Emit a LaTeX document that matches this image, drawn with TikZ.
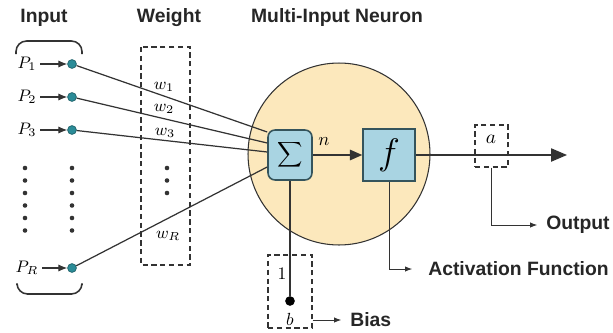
\RequirePackage{fix-cm}
\documentclass[tikz,border=0pt]{standalone}
\usepackage{fontspec}
\setsansfont{Liberation Sans}
\usepackage{tikz}
\usetikzlibrary{arrows.meta,positioning,calc}
\definecolor{neuronfill}{HTML}{FCE8BC}
\definecolor{boxfill}{HTML}{A9D4E2}
\definecolor{boxedge}{HTML}{35545C}
\definecolor{dotteal}{HTML}{2B8C98}
\definecolor{inkgray}{HTML}{333333}

\begin{document}
\begin{tikzpicture}[
  x=0.02cm, y=-0.02cm,
  font=\sffamily,
  >=Latex,
  heading/.style={font=\fontsize{11}{13}\selectfont\sffamily\bfseries, text=black!85, inner sep=0pt},
  callout/.style={font=\fontsize{11}{13}\selectfont\sffamily\bfseries, text=black!85, anchor=west, inner sep=0pt},
  mathlbl/.style={inner sep=0pt, font=\fontsize{9.5}{11}\selectfont},
  inputdot/.style={circle, fill=dotteal, draw=dotteal!70!black, line width=0.4pt, minimum size=5pt, inner sep=0pt},
  opbox/.style={draw=boxedge, fill=boxfill, line width=0.9pt, inner sep=0pt},
  dashbox/.style={draw=inkgray, dash pattern=on 3pt off 2pt, line width=0.6pt, inner sep=0pt},
  wire/.style={draw=inkgray, line width=0.7pt},
  pointer/.style={draw=inkgray, line width=0.5pt, -{Latex[length=4pt,width=3pt]}}
]
  \useasboundingbox (0,0) rectangle (613,332);

  % Title Block
  \node[heading] (tIn) at (44,18) {Input};
  \node[heading] (tW) at (169,18) {Weight};
  \node[heading] (tN) at (337,18) {Multi-Input Neuron};

  % Neuron body with summer and transfer function
  \node[circle, draw=inkgray, fill=neuronfill, line width=0.6pt, minimum size=3.64cm] (body) at (339,154) {};
  \node[opbox, rounded corners=4pt, minimum width=0.88cm, minimum height=1.0cm] (sum) at (290,155) {\fontsize{12}{14}\selectfont$\displaystyle\sum$};
  \node[opbox, minimum width=1.04cm, minimum height=1.04cm] (act) at (389,155) {\fontsize{21}{23}\selectfont$f$};
  \draw[wire, -{Triangle[length=7pt,width=6pt]}] (sum) -- (act);
  \node[mathlbl, font=\fontsize{10.5}{12}\selectfont] (lbn) at (324,142) {$n$};

  % Input brackets
  \draw[wire, line width=0.9pt, rounded corners=6pt] (16,54) -- (16,41) -- (82,41) -- (82,54);
  \draw[wire, line width=0.9pt, rounded corners=6pt] (17,285) -- (17,294) -- (82,294) -- (82,285);

  % Weight column
  \draw[dashbox] (141,47) rectangle (190,265);

  % Inputs and weighted connections
  \foreach \i/\y/\lab in {1/64/1, 2/97/2, 3/130/3, R/268/R} {
    \node[mathlbl] (p\i) at (27,\y) {$P_{\lab}$};
    \node[inputdot] (in\i) at (72,\y) {};
    \draw[wire, line width=0.6pt, -{Latex[length=5pt,width=4pt]}, shorten <=2pt] (p\i) -- (in\i);
  }
  \draw[wire] (in1) -- ($(sum.west)+(0,-23)$);
  \draw[wire] (in2) -- ($(sum.west)+(0,-12)$);
  \draw[wire] (in3) -- ($(sum.west)+(0,-3)$);
  \draw[wire] (inR) -- ($(sum.west)+(0,12)$);
  \node[mathlbl] (w1) at (164,87) {$w_1$};
  \node[mathlbl] (w2) at (164,109) {$w_2$};
  \node[mathlbl] (w3) at (165,133) {$w_3$};
  \node[mathlbl] (wR) at (168,236) {$w_R$};

  % Vertical dots
  \foreach \y in {168,180.5,193,205.5,218,230.5} {
    \fill[black!80] (25,\y) circle (1.3pt);
    \fill[black!80] (72,\y) circle (1.3pt);
  }
  \foreach \y in {168,180.5,193} {
    \fill[black!80] (167,\y) circle (1.3pt);
  }

  % Bias
  \node[dashbox, minimum width=0.88cm, minimum height=1.46cm] (bbox) at (290,291.5) {};
  \node[circle, fill=black, inner sep=0pt, minimum size=5.5pt] (bdot) at (290,301) {};
  \draw[wire] (sum.south) -- (bdot);
  \node[mathlbl, font=\fontsize{10}{11}\selectfont] (one) at (282,274) {$1$};
  \node[mathlbl, font=\fontsize{10}{11}\selectfont] (lbb) at (290,319) {$b$};
  \node[callout] (lbias) at (350,320) {Bias};
  \draw[pointer, shorten >=5pt] (bbox.east |- lbias) -- (lbias.west);

  % Output
  \node[dashbox, minimum width=0.66cm, minimum height=0.84cm] (abox) at (491.5,146) {};
  \node[mathlbl, font=\fontsize{11}{12}\selectfont] (lba) at (491,139) {$a$};
  \coordinate (outend) at (567,155);
  \draw[wire, -{Triangle[length=9pt,width=7.5pt]}] (act.east) -- (outend);
  \node[callout] (lout) at (546,225) {Output};
  \draw[pointer, shorten >=5pt] (abox.south) |- (lout.west);

  % Activation function callout
  \node[callout] (lact) at (428,269) {Activation Function};
  \draw[pointer, shorten >=9pt] (act.south) |- (lact.west);

\end{tikzpicture}
\end{document}
